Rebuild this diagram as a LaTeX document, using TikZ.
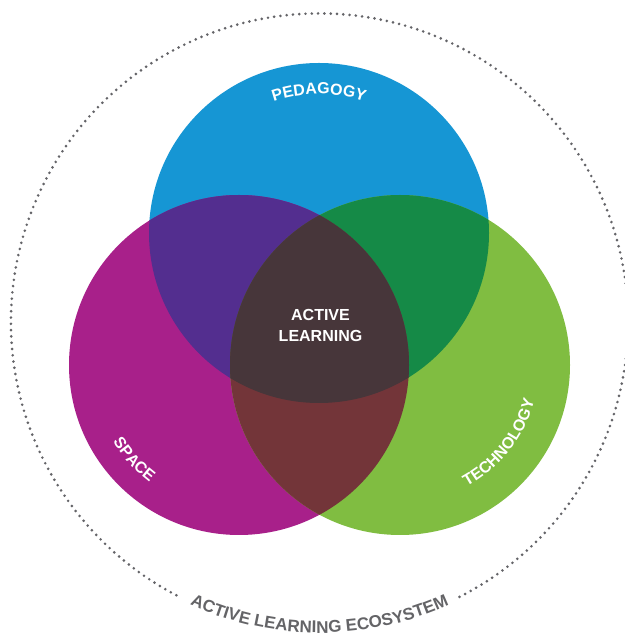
\documentclass[tikz,border=0pt]{standalone}
\usepackage{fontspec}
\newfontfamily\hv{Liberation Sans}
\usetikzlibrary{decorations.text}
\definecolor{pedblue}{RGB}{22,150,212}
\definecolor{spacemag}{RGB}{168,32,138}
\definecolor{techgreen}{RGB}{128,189,65}
\definecolor{bpcol}{RGB}{83,46,143}
\definecolor{bgcol}{RGB}{21,138,71}
\definecolor{pgcol}{RGB}{115,53,57}
\definecolor{corecol}{RGB}{71,54,58}
\definecolor{dotgray}{RGB}{100,100,104}
\definecolor{textgray}{RGB}{100,100,103}
\newcommand\labfont{\hv\bfseries\fontsize{16}{19}\selectfont}
\newcommand\ecofont{\hv\bfseries\fontsize{17}{20}\selectfont}
\tikzset{
  curvelabel/.style={decorate, decoration={text along path, text={|\labfont|#1}, text align=center, text color=white}},
  ecolabel/.style={decorate, decoration={text along path, text={|\ecofont|#1}, text align=center, text color=textgray}},
  dotring/.style={draw=dotgray, line width=2.9pt, line cap=round, dash pattern=on 0pt off 6.3pt},
}
\begin{document}
\begin{tikzpicture}[x=1pt,y=1pt]
\useasboundingbox (0,0) rectangle (624,637);
\fill[white] (0,0) rectangle (624,637);
\coordinate (B) at (319,404);
\coordinate (P) at (239,272);
\coordinate (G) at (400,272);
\coordinate (O) at (319.5,315);
% outer dotted ring
\draw[dotring] (O) ++(-63:308.5) arc[start angle=-63, end angle=243, radius=308.5];
% circles
\fill[pedblue] (B) circle[radius=170];
\fill[spacemag] (P) circle[radius=170];
\fill[techgreen] (G) circle[radius=170];
\begin{scope}
  \clip (B) circle[radius=170];
  \fill[bpcol] (P) circle[radius=170];
  \fill[bgcol] (G) circle[radius=170];
\end{scope}
\begin{scope}
  \clip (P) circle[radius=170];
  \fill[pgcol] (G) circle[radius=170];
\end{scope}
\begin{scope}
  \clip (B) circle[radius=170];
  \clip (P) circle[radius=170];
  \fill[corecol] (G) circle[radius=170];
\end{scope}
% labels
\path[curvelabel=PEDAGOGY] (B) ++(135:139) arc[start angle=135, end angle=45, radius=139];
\path[curvelabel=SPACE] (P) ++(187:147.5) arc[start angle=187, end angle=257, radius=147.5];
\path[curvelabel=TECHNOLOGY] (G) ++(282:139) arc[start angle=282, end angle=362, radius=139];
\path[ecolabel={ACTIVE LEARNING ECOSYSTEM}] (O) ++(235:311) arc[start angle=235, end angle=305, radius=311];
\node[align=center, text=white, font=\hv\bfseries\fontsize{16}{21}\selectfont] (core) at (320.5,311.5) {ACTIVE\\LEARNING};
\end{tikzpicture}
\end{document}
